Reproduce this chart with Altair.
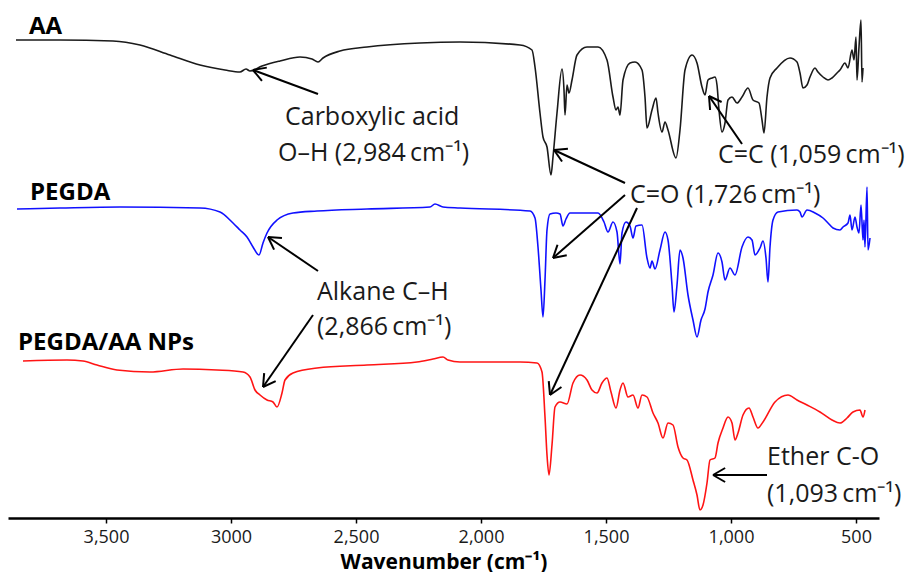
import math
import altair as alt
import pandas as pd

# ---------------- data (wavenumber in cm-1, transmittance in a.u., stacked) ----------------
WN_DOMAIN = [408, 3892]
T_DOMAIN = [0, 510]
TICK_VALUES = [3500, 3000, 2500, 2000, 1500, 1000, 500]
TICK_LABELS = ["3,500", "3000", "2,500", "2,000", "1,500", "1,000", "500"]

AA_wn = [3860, 3684, 3472, 3364, 3244, 3124, 3024, 2964, 2940, 2924, 2876, 2804, 2724, 2676, 2652, 2632,
         2564, 2456, 2244, 2084, 1844, 1796, 1784, 1764, 1752, 1736, 1720, 1712, 1696, 1676, 1668, 1664,
         1656, 1648, 1636, 1616, 1576, 1532, 1496, 1472, 1460, 1452, 1444, 1432, 1404, 1384, 1356, 1344,
         1336, 1316, 1300, 1292, 1276, 1264, 1252, 1220, 1204, 1184, 1156, 1136, 1116, 1104, 1092, 1076,
         1064, 1056, 1048, 1036, 1024, 1012, 996, 976, 956, 932, 912, 888, 876, 868, 856, 844, 816, 764,
         736, 724, 712, 696, 684, 664, 652, 632, 612, 596, 576, 564, 544, 532, 516, 508, 500, 496, 488,
         480, 476, 472]
AA_t = [478, 478, 477, 473, 463, 453, 448, 446, 449, 447, 452, 457, 461, 459, 456, 460,
        467, 471, 475, 476, 473, 468, 451, 405, 381, 371, 343, 361, 405, 449, 428, 403,
        433, 425, 438, 463, 471, 471, 458, 421, 408, 411, 403, 438, 455, 456, 448, 421,
        390, 408, 420, 405, 386, 396, 388, 360, 388, 448, 463, 455, 431, 423, 438, 440,
        441, 433, 408, 386, 395, 418, 421, 415, 421, 430, 418, 415, 398, 385, 421, 440, 450, 460,
        456, 445, 430, 433, 441, 450, 446, 441, 438, 440, 445, 448, 455, 450, 468, 458, 481, 438, 471,
        498, 436, 450]

PEGDA_wn = [3856, 3684, 3444, 3124, 3044, 2992, 2964, 2936, 2912, 2888, 2872, 2856, 2816, 2752, 2656,
            2456, 2204, 2184, 2152, 2084, 1804, 1784, 1772, 1760, 1752, 1744, 1736, 1724, 1700, 1684,
            1672, 1660, 1644, 1532, 1508, 1492, 1472, 1456, 1444, 1436, 1420, 1404, 1392, 1380, 1356,
            1336, 1324, 1316, 1304, 1284, 1264, 1252, 1236, 1228, 1216, 1204, 1192, 1172, 1152, 1136,
            1120, 1104, 1092, 1072, 1052, 1036, 1024, 1004, 984, 956, 932, 916, 904, 884, 872, 860, 852,
            844, 832, 812, 736, 724, 716, 696, 664, 632, 612, 592, 564, 552, 532, 524, 516, 504, 496,
            488, 480, 472, 468, 464, 456, 452, 444]
PEGDA_t = [309, 310, 311, 310, 306, 295, 288, 281, 271, 263, 275, 285, 298, 305, 307,
           309, 311, 314, 311, 310, 307, 300, 271, 228, 201, 238, 288, 304, 305, 304,
           292, 299, 305, 305, 296, 286, 296, 286, 254, 285, 296, 292, 280, 292, 293,
           260, 250, 257, 249, 268, 286, 278, 233, 206, 233, 268, 260, 223, 198, 181,
           198, 209, 226, 243, 265, 256, 238, 250, 243, 271, 281, 278, 263, 270, 277, 260, 236,
           271, 298, 306, 308, 306, 301, 308, 305, 300, 295, 290, 288, 291, 295, 303, 288, 301, 291,
           285, 313, 278, 298, 271, 331, 268, 280]

NP_wn = [3832, 3656, 3592, 3536, 3456, 3324, 3192, 3056, 2952, 2924, 2904, 2884, 2856, 2832, 2816,
         2796, 2784, 2752, 2656, 2456, 2256, 2192, 2152, 2132, 2084, 1844, 1776, 1756, 1744, 1736,
         1728, 1716, 1704, 1684, 1656, 1632, 1604, 1576, 1556, 1536, 1516, 1496, 1480, 1460, 1444,
         1432, 1412, 1392, 1372, 1356, 1336, 1312, 1292, 1272, 1252, 1232, 1212, 1192, 1176, 1152,
         1136, 1124, 1112, 1096, 1084, 1064, 1052, 1032, 1012, 996, 984, 972, 952, 928, 912, 892,
         872, 824, 772, 736, 696, 644, 596, 564, 536, 512, 484, 472, 464]
NP_t = [157, 158, 157, 153, 148, 146, 149, 148, 146, 141, 128, 123, 118, 116, 111,
        125, 138, 145, 150, 153, 156, 159, 161, 158, 156, 156, 155, 146, 101, 63,
        43, 73, 111, 116, 114, 135, 143, 138, 128, 125, 135, 140, 126, 110, 128,
        135, 121, 123, 110, 123, 121, 105, 95, 80, 95, 93, 71, 60, 58, 38,
        23, 8, 13, 35, 58, 60, 75, 90, 101, 95, 78, 85, 103, 110, 101, 90,
        96, 116, 123, 118, 113, 106, 98, 95, 100, 106, 108, 101, 108]

SERIES = ["AA", "PEGDA", "PEGDA/AA NPs"]
COLORS = ["#1a1a1a", "#1010ff", "#ff1414"]

# series name labels
SERIES_LABEL_WN = [3808, 3804, 3852]
SERIES_LABEL_T = [484, 318, 168]

# annotation texts
ANN_TEXT = ["Carboxylic acid", "O\u2013H (2,984\u2009cm\u207b\u00b9)", "C=C (1,059\u2009cm\u207b\u00b9)",
            "C=O (1,726\u2009cm\u207b\u00b9)", "Alkane C\u2013H", "(2,866\u2009cm\u207b\u00b9)",
            "Ether C-O", "(1,093\u2009cm\u207b\u00b9)"]
ANN_WN = [2784, 2812, 1052, 1404, 2656, 2656, 856, 856]
ANN_T = [393, 357, 355, 315, 218, 183, 53, 16]

# arrows: start -> tip
ARR_WN0 = [2652, 956, 1424, 1424, 1376, 2652, 2672, 856]
ARR_T0 = [424, 374, 335, 323, 310, 247, 203, 43]
ARR_WN1 = [2912, 1088, 1708, 1712, 1724, 2852, 2872, 1072]
ARR_T1 = [448, 422, 368, 260, 123, 281, 131, 43]

# ---------------- layout ----------------
W, H = 871, 510
px_per_wn = W / (WN_DOMAIN[1] - WN_DOMAIN[0])
px_per_t = H / (T_DOMAIN[1] - T_DOMAIN[0])

rows = []
for name, wn, t in [("AA", AA_wn, AA_t), ("PEGDA", PEGDA_wn, PEGDA_t), ("PEGDA/AA NPs", NP_wn, NP_t)]:
    for a, b in zip(wn, t):
        rows.append({"series": name, "wn": a, "t": b})
spec_df = pd.DataFrame(rows)

# arrow shafts and heads
seg = []
HEAD_LEN, HEAD_ANG = 14, math.radians(30)
for w0, t0, w1, t1 in zip(ARR_WN0, ARR_T0, ARR_WN1, ARR_T1):
    seg.append({"wn": w0, "t": t0, "wn2": w1, "t2": t1})
    dx = -(w0 - w1) * px_per_wn
    dy = (t0 - t1) * px_per_t
    L = math.hypot(dx, dy)
    ux, uy = dx / L, dy / L
    for s in (1, -1):
        c, sn = math.cos(s * HEAD_ANG), math.sin(s * HEAD_ANG)
        rx, ry = ux * c - uy * sn, ux * sn + uy * c
        ex, ey = rx * HEAD_LEN, ry * HEAD_LEN
        seg.append({"wn": w1, "t": t1, "wn2": w1 - ex / px_per_wn, "t2": t1 + ey / px_per_t})
seg_df = pd.DataFrame(seg)

lab_df = pd.DataFrame({"wn": SERIES_LABEL_WN, "t": SERIES_LABEL_T, "text": SERIES})
ann_df = pd.DataFrame({"wn": ANN_WN, "t": ANN_T, "text": ANN_TEXT})

label_expr = "".join(f"datum.value == {v} ? '{l}' : " for v, l in zip(TICK_VALUES, TICK_LABELS)) + "''"

x_enc = alt.X("wn:Q",
              scale=alt.Scale(domain=WN_DOMAIN, reverse=True, nice=False, zero=False),
              axis=alt.Axis(values=TICK_VALUES, labelExpr=label_expr, grid=False,
                            domainColor="black", domainWidth=2.5, tickColor="black", tickWidth=1.5,
                            tickSize=5, labelFont="Open Sans", labelFontSize=18, labelColor="#1a1a1a",
                            labelPadding=5, title="Wavenumber (cm\u207b\u00b9)", titleFont="Open Sans",
                            titleFontSize=21, titleFontWeight="bold", titleColor="black", titlePadding=5))
y_enc = alt.Y("t:Q", scale=alt.Scale(domain=T_DOMAIN, nice=False, zero=False), axis=None)

lines = alt.Chart(spec_df).mark_line(strokeWidth=1.6, interpolate="monotone").encode(
    x=x_enc, y=y_enc,
    color=alt.Color("series:N", scale=alt.Scale(domain=SERIES, range=COLORS), legend=None),
    detail="series:N",
)

arrows = alt.Chart(seg_df).mark_rule(color="black", strokeWidth=2).encode(
    x="wn:Q", y="t:Q", x2="wn2:Q", y2="t2:Q")

labels = alt.Chart(lab_df).mark_text(align="left", baseline="alphabetic", font="Open Sans",
                                      fontWeight="bold", fontSize=24, color="black").encode(
    x="wn:Q", y="t:Q", text="text:N")

anns = alt.Chart(ann_df).mark_text(align="left", baseline="alphabetic", font="Open Sans",
                                   fontSize=25, color="#1a1a1a").encode(
    x="wn:Q", y="t:Q", text="text:N")

chart = alt.layer(lines, arrows, labels, anns).properties(
    width=W, height=H, padding=0, background="white"
).configure_view(stroke=None)

chart.save("out.html", embed_options={"renderer": "svg", "actions": False})
